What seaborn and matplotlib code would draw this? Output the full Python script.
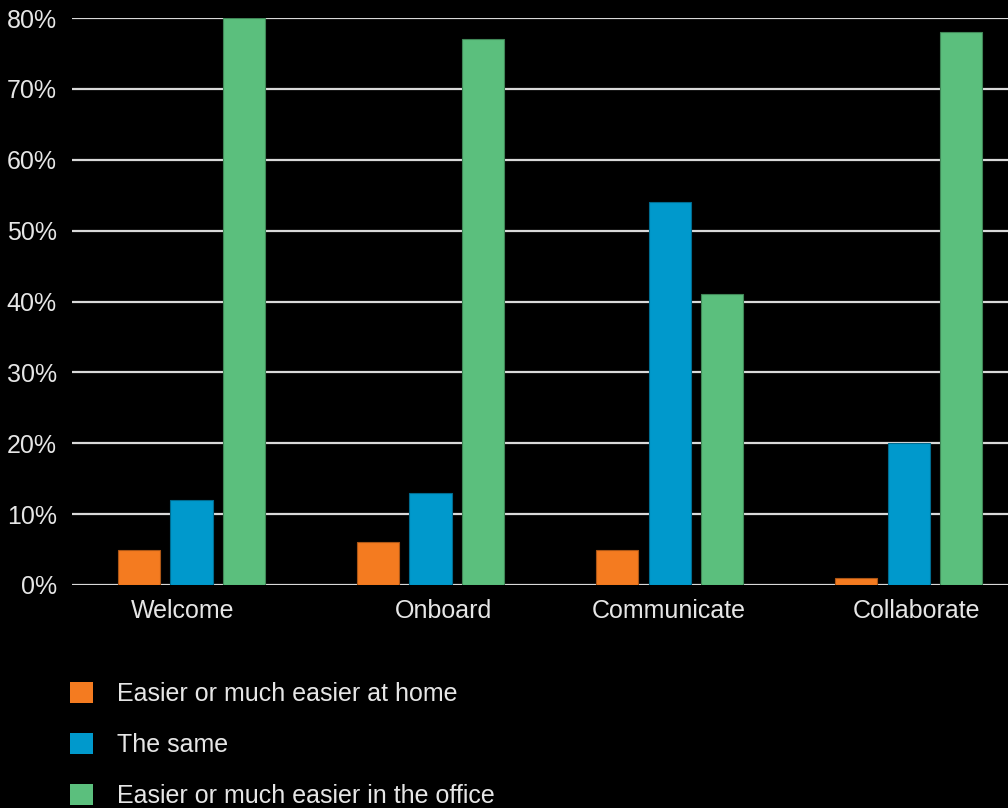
import matplotlib
matplotlib.use("Agg")
import matplotlib.pyplot as plt
import matplotlib.transforms as mtransforms
from matplotlib.colors import to_rgb
from matplotlib.patches import Patch
import seaborn as sns
import pandas as pd

categories = ["Welcome", "Onboard", "Communicate", "Collaborate"]
series = ["Easier or much easier at home", "The same", "Easier or much easier in the office"]
home = [5, 6, 5, 1]
same = [12, 13, 54, 20]
office = [80, 77, 41, 78]
y_ticks = [0, 10, 20, 30, 40, 50, 60, 70, 80]
colors = ["#F47B20", "#0099CC", "#5BBF7D"]

rows = []
for s, vals in zip(series, [home, same, office]):
    for c, v in zip(categories, vals):
        rows.append({"category": c, "series": s, "value": v})
df = pd.DataFrame(rows)

sns.set_theme(style="dark")
plt.rcParams["font.family"] = ["Liberation Sans", "DejaVu Sans"]
text_color = "#e6e6e6"

fig = plt.figure(figsize=(10.08, 8.08), dpi=100, facecolor="black")
ax = fig.add_axes([72 / 1008, 1 - 585 / 808, 936 / 1008, (585 - 18) / 808])
ax.set_facecolor("black")

sns.barplot(data=df, x="category", y="value", hue="series", order=categories,
            hue_order=series, palette=colors, width=0.66, gap=0.2,
            saturation=1, legend=False, ax=ax, zorder=3)

for patch in ax.patches:
    r, g, b = to_rgb(patch.get_facecolor())
    patch.set_edgecolor((r * 0.7, g * 0.7, b * 0.7))
    patch.set_linewidth(0.8)

ax.set_xlim(-0.5, 3.416)
ax.set_ylim(0, 80)
ax.set_yticks(y_ticks)
ax.set_yticklabels([f"{t}%" for t in y_ticks])
ax.yaxis.grid(True, color="#d9d9d9", linewidth=1.6, zorder=0)
ax.xaxis.grid(False)
ax.set_axisbelow(True)
for sp in ax.spines.values():
    sp.set_visible(False)
ax.set_xlabel("")
ax.set_ylabel("")
ax.tick_params(axis="y", length=0, pad=11, labelsize=18, labelcolor=text_color)
ax.tick_params(axis="x", length=0, pad=10, labelsize=18, labelcolor=text_color)

# small horizontal nudges for the category labels
nudges = [-8.5, 13, -1, 8]
for lab, dx in zip(ax.get_xticklabels(), nudges):
    lab.set_transform(lab.get_transform() + mtransforms.ScaledTranslation(dx / 100, 0, fig.dpi_scale_trans))

handles = [Patch(facecolor=c, edgecolor="none") for c in colors]
leg = fig.legend(handles, series, loc="upper left",
                 bbox_to_anchor=(70 / 1008, 1 - 682 / 808),
                 frameon=False, fontsize=18, labelcolor=text_color,
                 handlelength=0.92, handleheight=0.92, handletextpad=0.96,
                 labelspacing=1.07, borderpad=0, borderaxespad=0)

fig.savefig("out.png", dpi=100, facecolor="black")
